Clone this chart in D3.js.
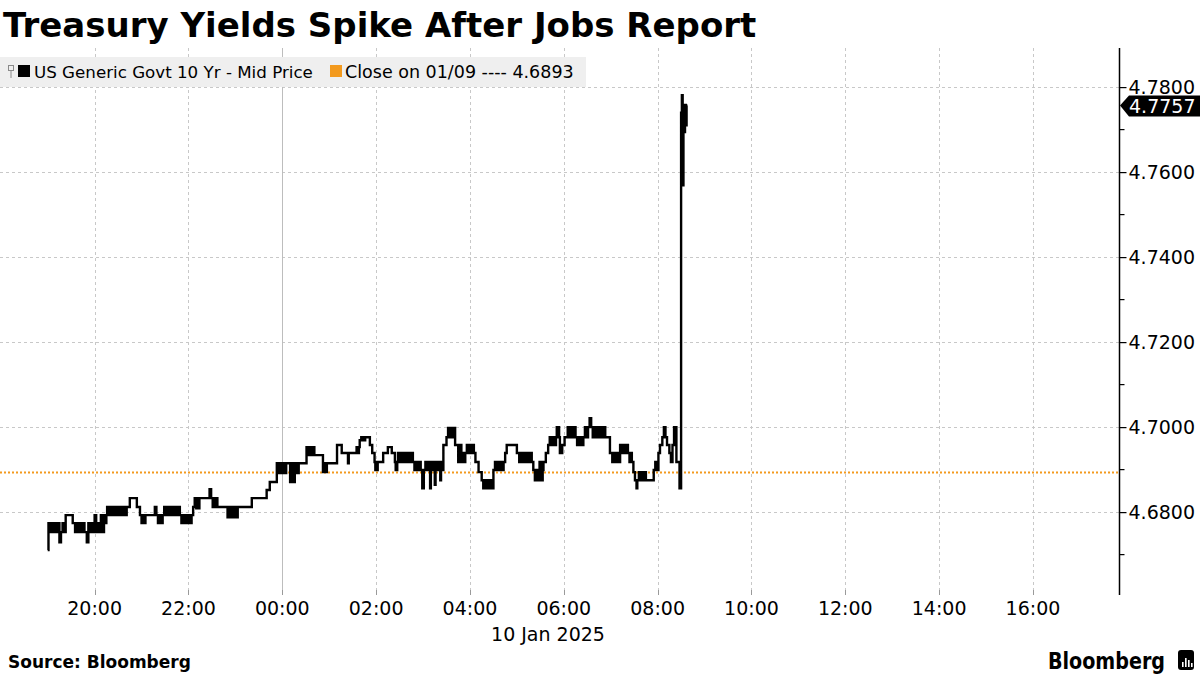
<!DOCTYPE html>
<html>
<head>
<meta charset="utf-8">
<script src="https://cdn.jsdelivr.net/npm/d3@7"></script>
<style>
  html, body { margin: 0; padding: 0; background: #ffffff; }
  svg { display: block; }
  text { font-family: "DejaVu Sans", Verdana, sans-serif; }
</style>
</head>
<body>
<svg id="chart" width="1200" height="675"></svg>
<script>
// ---------------- DATA ----------------
const title = "Treasury Yields Spike After Jobs Report";
const seriesName = "US Generic Govt 10 Yr - Mid Price";
const closeLabel = "Close on 01/09 ---- 4.6893";
const closeValue = 4.6893;
const lastValue = 4.7757;
const dateLabel = "10 Jan 2025";
const sourceText = "Source: Bloomberg";

const xTickLabels = ["20:00","22:00","00:00","02:00","04:00","06:00","08:00","10:00","12:00","14:00","16:00"];
const yTickValues = [4.68, 4.70, 4.72, 4.74, 4.76, 4.78];
const yMinorTicks = [4.67, 4.69, 4.71, 4.73, 4.75, 4.77];

// times: 17:00-23:59 belong to 9 Jan, 00:00-16:59 to 10 Jan
const times = [
"19:00","19:01","19:03","19:05","19:07","19:09","19:11","19:12","19:15","19:17","19:19","19:21","19:23","19:32","19:35","19:38","19:41","19:44","19:47","19:50",
"19:52","19:54","19:56","19:58","20:00","20:02","20:04","20:06","20:08","20:10","20:12","20:14","20:15","20:16","20:18","20:20","20:22","20:24","20:26","20:28",
"20:31","20:33","20:35","20:37","20:39","20:41","20:45","20:54","20:58","21:00","21:02","21:04","21:05","21:17","21:19","21:21","21:23","21:25","21:27","21:29",
"21:32","21:35","21:38","21:41","21:44","21:47","21:49","21:51","21:53","21:55","21:57","21:59","22:01","22:03","22:04","22:06","22:08","22:10","22:12","22:13",
"22:14","22:27","22:29","22:31","22:33","22:35","22:36","22:37","22:50","22:52","22:54","22:56","22:58","23:00","23:02","23:03","23:21","23:40","23:44","23:53",
"23:55","23:57","23:59","00:01","00:03","00:05","00:10","00:12","00:14","00:16","00:19","00:21","00:31","00:33","00:35","00:37","00:39","00:41","00:52","00:54",
"00:55","00:57","01:10","01:16","01:24","01:25","01:35","01:37","01:38","01:39","01:41","01:43","01:46","01:52","01:55","01:58","01:59","02:00","02:01","02:02",
"02:09","02:15","02:20","02:24","02:25","02:27","02:28","02:30","02:32","02:34","02:36","02:38","02:40","02:42","02:44","02:47","02:49","02:51","02:53","02:55",
"02:57","02:59","03:01","03:03","03:05","03:07","03:09","03:10","03:12","03:14","03:15","03:16","03:18","03:20","03:22","03:23","03:25","03:26","03:30","03:32",
"03:34","03:36","03:38","03:40","03:41","03:45","03:47","03:49","03:51","03:53","03:54","03:56","03:58","04:00","04:02","04:04","04:05","04:07","04:11","04:15",
"04:17","04:19","04:21","04:23","04:25","04:27","04:29","04:30","04:32","04:33","04:35","04:37","04:39","04:41","04:43","04:45","04:47","05:00","05:03","05:05",
"05:07","05:09","05:11","05:13","05:15","05:17","05:19","05:21","05:23","05:25","05:27","05:29","05:31","05:33","05:34","05:37","05:40","05:42","05:44","05:46",
"05:48","05:50","05:51","05:54","05:55","05:58","06:01","06:05","06:07","06:09","06:11","06:13","06:15","06:17","06:20","06:22","06:25","06:27","06:29","06:31",
"06:33","06:35","06:37","06:39","06:41","06:43","06:45","06:47","06:49","06:51","06:53","06:59","07:02","07:04","07:06","07:08","07:10","07:12","07:14","07:16",
"07:18","07:20","07:22","07:24","07:26","07:27","07:29","07:31","07:33","07:34","07:36","07:38","07:40","07:42","07:44","07:45","07:55","07:57","07:59","08:01",
"08:03","08:06","08:08","08:10","08:12","08:15","08:17","08:19","08:21","08:24","08:28","08:30","08:31","08:32","08:33","08:34","08:35","08:36","08:37","08:38"
];
const yields = [
4.6711,4.6774,4.6753,4.6774,4.6753,4.6774,4.6753,4.6774,4.6729,4.6753,4.6774,4.6753,4.6793,4.6774,4.6753,4.6774,4.6753,4.6774,4.6753,4.6729,
4.6774,4.6753,4.6774,4.6753,4.6793,4.6753,4.6774,4.6753,4.6793,4.6753,4.6793,4.6774,4.6793,4.6812,4.6793,4.6812,4.6793,4.6812,4.6793,4.6812,
4.6793,4.6812,4.6793,4.6812,4.6793,4.6812,4.6833,4.6812,4.6793,4.6774,4.6793,4.6774,4.6793,4.6812,4.6793,4.6774,4.6793,4.6774,4.6793,4.6812,
4.6793,4.6812,4.6793,4.6812,4.6793,4.6812,4.6793,4.6774,4.6793,4.6774,4.6793,4.6774,4.6793,4.6774,4.6793,4.6812,4.6833,4.6809,4.6833,4.6809,
4.6833,4.6854,4.6833,4.6812,4.6833,4.6812,4.6833,4.6812,4.6788,4.6812,4.6788,4.6812,4.6788,4.6812,4.6788,4.6812,4.6833,4.6852,4.6871,4.6915,
4.6892,4.6915,4.6892,4.6915,4.6892,4.6915,4.6871,4.6915,4.6871,4.6915,4.6892,4.6915,4.6953,4.6934,4.6953,4.6934,4.6953,4.6934,4.6894,4.6915,
4.6894,4.6915,4.6958,4.6939,4.6915,4.6939,4.6953,4.6939,4.6953,4.6969,4.6976,4.6969,4.6976,4.6958,4.6939,4.6918,4.6899,4.6918,4.6899,4.6918,
4.6939,4.6953,4.6939,4.6918,4.6899,4.6918,4.6939,4.6918,4.6939,4.6918,4.6939,4.6918,4.6939,4.6918,4.6939,4.6918,4.6899,4.6918,4.6899,4.6918,
4.6899,4.6856,4.6899,4.6918,4.6899,4.6918,4.6856,4.6918,4.6899,4.6918,4.6864,4.6918,4.6899,4.6918,4.6875,4.6918,4.6899,4.6958,4.6976,4.6998,
4.6976,4.6998,4.6976,4.6998,4.6958,4.6918,4.6958,4.6918,4.6939,4.6918,4.6939,4.6958,4.6939,4.6958,4.6939,4.6958,4.6939,4.6918,4.6894,4.6875,
4.6856,4.6875,4.6856,4.6875,4.6856,4.6875,4.6856,4.6899,4.6918,4.6899,4.6918,4.6899,4.6918,4.6899,4.6918,4.6939,4.6958,4.6939,4.6918,4.6939,
4.6918,4.6939,4.6918,4.6939,4.6918,4.6939,4.6918,4.6899,4.6875,4.6899,4.6875,4.6918,4.6875,4.6899,4.6918,4.6939,4.6958,4.6976,4.6958,4.6976,
4.6958,4.6976,4.7000,4.6976,4.6939,4.6958,4.6976,4.7000,4.6976,4.7000,4.6976,4.7000,4.6976,4.6958,4.6976,4.6958,4.6976,4.7000,4.6976,4.7000,
4.7021,4.7000,4.6976,4.7000,4.6976,4.7000,4.6976,4.7000,4.6976,4.7000,4.6976,4.6939,4.6918,4.6939,4.6918,4.6939,4.6918,4.6958,4.6939,4.6958,
4.6939,4.6958,4.6939,4.6918,4.6939,4.6918,4.6894,4.6875,4.6856,4.6875,4.6894,4.6875,4.6894,4.6875,4.6894,4.6875,4.6899,4.6918,4.6899,4.6939,
4.6958,4.6976,4.7000,4.6976,4.6958,4.6939,4.6918,4.6958,4.7000,4.6918,4.6856,4.7740,4.7781,4.7569,4.7758,4.7694,4.7758,4.7710,4.7757,4.7757
];

// ---------------- HELPERS ----------------
function parseT(s) {
  const [h, m] = s.split(":").map(Number);
  const day = h >= 17 ? 9 : 10;
  return new Date(2025, 0, day, h, m);
}
const data = times.map((t, i) => ({ t: parseT(t), v: yields[i] }));

// ---------------- LAYOUT ----------------
const svg = d3.select("#chart");
const plotLeft = 0, plotRight = 1119, plotTop = 48, plotBottom = 595;

const x = d3.scaleTime()
  .domain([new Date(2025, 0, 9, 17, 59), new Date(2025, 0, 10, 17, 50)])
  .range([plotLeft, plotRight]);
const y = d3.scaleLinear()
  .domain([4.6605, 4.7892])
  .range([plotBottom, plotTop]);

const xTicks = xTickLabels.map(parseT);

// gridlines - horizontal
svg.append("g").selectAll("line").data(yTickValues).join("line")
  .attr("x1", plotLeft).attr("x2", plotRight)
  .attr("y1", d => Math.round(y(d)) + 0.5).attr("y2", d => Math.round(y(d)) + 0.5)
  .attr("stroke", "#c8c8c8").attr("stroke-width", 1).attr("stroke-dasharray", "3,3");

// gridlines - vertical
svg.append("g").selectAll("line").data(xTicks).join("line")
  .attr("x1", d => Math.round(x(d)) + 0.5).attr("x2", d => Math.round(x(d)) + 0.5)
  .attr("y1", plotTop).attr("y2", plotBottom)
  .attr("stroke", d => d.getHours() === 0 ? "#bdbdbd" : "#c8c8c8")
  .attr("stroke-width", 1)
  .attr("stroke-dasharray", d => d.getHours() === 0 ? null : "3,3");

// x tick marks at bottom
svg.append("g").selectAll("line").data(xTicks).join("line")
  .attr("x1", d => Math.round(x(d)) + 0.5).attr("x2", d => Math.round(x(d)) + 0.5)
  .attr("y1", plotBottom - 5).attr("y2", plotBottom)
  .attr("stroke", "#9a9a9a").attr("stroke-width", 1);

// x labels
svg.append("g").selectAll("text").data(xTicks).join("text")
  .attr("x", d => x(d)).attr("y", 615)
  .attr("text-anchor", "middle")
  .attr("font-size", 19).attr("fill", "#000")
  .text(d => d3.timeFormat("%H:%M")(d));

svg.append("text")
  .attr("x", 548).attr("y", 641)
  .attr("text-anchor", "middle")
  .attr("font-size", 19).attr("fill", "#000")
  .text(dateLabel);

// close line (dotted orange)
svg.append("line")
  .attr("x1", plotLeft).attr("x2", plotRight)
  .attr("y1", y(closeValue)).attr("y2", y(closeValue))
  .attr("stroke", "#f39a1e").attr("stroke-width", 2).attr("stroke-dasharray", "2,2");

// series line
const line = d3.line().curve(d3.curveStepAfter).x(d => x(d.t)).y(d => y(d.v));
svg.append("path").datum(data)
  .attr("d", line)
  .attr("fill", "none").attr("stroke", "#000").attr("stroke-width", 2.4)
  .attr("stroke-linejoin", "miter");

// right axis
const yAxis = d3.axisRight(y).tickValues(yTickValues).tickSize(7).tickSizeOuter(0)
  .tickFormat(d3.format(".4f")).tickPadding(2);
const ag = svg.append("g").attr("transform", `translate(${plotRight + 0.5},0)`).call(yAxis);
ag.select(".domain").attr("stroke", "#000").attr("stroke-width", 1.5)
  .attr("d", `M0,${plotTop}V${plotBottom}`);
ag.selectAll(".tick line").attr("stroke", "#000").attr("stroke-width", 1.2);
ag.selectAll(".tick text").attr("font-size", 19).attr("fill", "#000")
  .attr("font-family", "DejaVu Sans, Verdana, sans-serif");
ag.append("g").selectAll("line").data(yMinorTicks).join("line")
  .attr("x1", 0).attr("x2", 5)
  .attr("y1", d => y(d)).attr("y2", d => y(d))
  .attr("stroke", "#000").attr("stroke-width", 1.2);

// last value tag
const ly = y(lastValue);
svg.append("path")
  .attr("d", `M${plotRight + 1},${ly} L${plotRight + 10},${ly - 10} L1200,${ly - 10} L1200,${ly + 11} L${plotRight + 10},${ly + 11} Z`)
  .attr("fill", "#000");
svg.append("text")
  .attr("x", plotRight + 10).attr("y", ly + 7.5)
  .attr("font-size", 19).attr("fill", "#fff")
  .text(d3.format(".4f")(lastValue));

// legend
const lg = svg.append("g");
lg.append("rect").attr("x", 0).attr("y", 57).attr("width", 586).attr("height", 30).attr("fill", "#efefef");
lg.append("rect").attr("x", 8.5).attr("y", 65.5).attr("width", 5).attr("height", 5)
  .attr("fill", "none").attr("stroke", "#8a8a8a").attr("stroke-width", 1);
lg.append("line").attr("x1", 11).attr("x2", 11).attr("y1", 71).attr("y2", 78)
  .attr("stroke", "#8a8a8a").attr("stroke-width", 1);
lg.append("rect").attr("x", 18).attr("y", 65).attr("width", 12).attr("height", 12).attr("fill", "#000");
lg.append("text").attr("x", 34).attr("y", 78).attr("font-size", 16.7).attr("fill", "#000").text(seriesName);
lg.append("rect").attr("x", 330).attr("y", 65).attr("width", 12).attr("height", 12).attr("fill", "#f39a1e");
lg.append("text").attr("x", 345).attr("y", 78).attr("font-size", 17.5).attr("fill", "#000").text(closeLabel);

// title
svg.append("text")
  .attr("x", 3).attr("y", 37)
  .attr("font-size", 34).attr("font-weight", "bold").attr("fill", "#000")
  .text(title);

// footer
svg.append("text")
  .attr("x", 8).attr("y", 668)
  .attr("font-size", 17).attr("font-weight", "bold").attr("fill", "#000")
  .text(sourceText);

svg.append("text")
  .attr("x", 1048).attr("y", 669)
  .attr("font-size", 23).attr("font-weight", "bold").attr("fill", "#000")
  .attr("textLength", 117).attr("lengthAdjust", "spacingAndGlyphs")
  .text("Bloomberg");
// logo mark
const lm = svg.append("g");
lm.append("rect").attr("x", 1178).attr("y", 650).attr("width", 16).attr("height", 20).attr("rx", 3).attr("fill", "#000");
[[1182, 662, 5], [1185, 658, 9], [1188, 660, 7], [1191, 663, 4]].forEach(([bx, by, bh]) => {
  lm.append("rect").attr("x", bx).attr("y", by).attr("width", 1.6).attr("height", bh).attr("fill", "#fff");
});
</script>
</body>
</html>
